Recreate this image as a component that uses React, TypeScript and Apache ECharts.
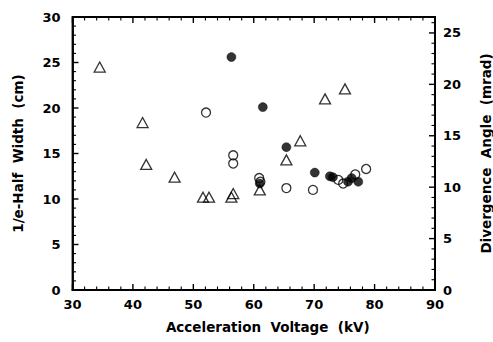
import React, { useEffect, useRef } from "react";
import * as echarts from "echarts";

// Acceleration voltage (kV), 1/e-half width (cm)
const triangleSeries: number[][] = [
  [34.5, 24.5], [41.6, 18.4], [42.2, 13.8], [46.9, 12.4], [51.6, 10.2], [52.6, 10.2],
  [56.3, 10.2], [56.6, 10.6], [61.0, 11.0], [65.4, 14.3], [67.7, 16.4], [71.8, 21.0], [75.1, 22.1],
];
const filledSeries: number[][] = [
  [56.3, 25.6], [61.5, 20.1], [65.4, 15.7], [70.1, 12.9], [72.6, 12.5], [73.1, 12.4],
  [75.6, 11.9], [76.2, 12.3], [77.3, 11.9], [61.0, 11.7],
];
const openSeries: number[][] = [
  [52.1, 19.5], [56.6, 14.8], [56.6, 13.9], [60.9, 12.3], [61.1, 11.9], [65.4, 11.2],
  [69.8, 11.0], [74.0, 12.1], [74.8, 11.7], [76.8, 12.7], [78.6, 13.3],
];

const xMin = 30, xMax = 90, xInterval = 10, xMinorStep = 2;
const yMin = 0, yMax = 30, yInterval = 5, yMinorStep = 1;
const rightMax = 26.55, rightInterval = 5, rightMinorStep = 1;

const FONT = "DejaVu Sans";

// tick marks: [value, kind (0 = x, 1 = left y, 2 = right y), major (1/0)]
const tickMarks: number[][] = [];
for (let v = xMin; v <= xMax + 1e-9; v += xMinorStep) tickMarks.push([v, 0, (v - xMin) % xInterval === 0 ? 1 : 0]);
for (let v = yMin; v <= yMax + 1e-9; v += yMinorStep) tickMarks.push([v, 1, v % yInterval === 0 ? 1 : 0]);
for (let v = 0; v <= rightMax + 1e-9; v += rightMinorStep) tickMarks.push([v, 2, v % rightInterval === 0 ? 1 : 0]);

const label = (margin: number) => ({ color: "#000", fontFamily: FONT, fontWeight: "bold", fontSize: 13, margin });
const nameStyle = () => ({ color: "#000", fontFamily: FONT, fontWeight: "bold", fontSize: 13.5 });
const axisLine = () => ({ show: true, onZero: false, lineStyle: { color: "#000", width: 1.8 } });

export default function App() {
  const ref = useRef<HTMLDivElement>(null);
  useEffect(() => {
    if (!ref.current) return;
    const chart = echarts.init(ref.current, null, { renderer: "svg" });
    const lineEl = (x1: number, y1: number, x2: number, y2: number, w: number) => ({
      type: "line", shape: { x1, y1, x2, y2 }, style: { stroke: "#000", lineWidth: w }, silent: true,
    });
    chart.setOption({
      animation: false,
      grid: {
        left: 72.5, right: 58, top: 17, bottom: 52, outerBoundsMode: "none",
        show: true, borderColor: "#000", borderWidth: 1.8, backgroundColor: "rgba(0,0,0,0)",
      },
      xAxis: [
        {
          type: "value", min: xMin, max: xMax, interval: xInterval, position: "bottom",
          axisLine: axisLine(), axisTick: { show: false }, splitLine: { show: false },
          axisLabel: label(8),
          name: "Acceleration  Voltage  (kV)", nameLocation: "middle", nameGap: 30,
          nameTextStyle: { ...nameStyle(), padding: [0, 0, 0, 28] },
        },
      ],
      yAxis: [
        {
          type: "value", min: yMin, max: yMax, interval: yInterval, position: "left",
          axisLine: axisLine(), axisTick: { show: false }, splitLine: { show: false },
          axisLabel: label(12),
          name: "1/e-Half  Width  (cm)", nameLocation: "middle", nameGap: 48, nameRotate: 90,
          nameTextStyle: nameStyle(),
        },
        {
          type: "value", min: 0, max: rightMax, interval: rightInterval, position: "right",
          axisLine: axisLine(), axisTick: { show: false }, splitLine: { show: false },
          axisLabel: { ...label(8), showMaxLabel: false },
          name: "Divergence  Angle  (mrad)", nameLocation: "middle", nameGap: 44, nameRotate: 90,
          nameTextStyle: nameStyle(),
        },
      ],
      series: [
        {
          type: "custom", data: tickMarks, xAxisIndex: 0, yAxisIndex: 0, clip: false, silent: true,
          renderItem: (_params: any, api: any) => {
            const v = api.value(0);
            const kind = api.value(1);
            const major = api.value(2) === 1;
            const len = major ? 6 : 3.5;
            const w = major ? 1.4 : 1.1;
            if (kind === 0) {
              const b = api.coord([v, yMin]);
              const t = api.coord([v, yMax]);
              return {
                type: "group",
                children: [lineEl(b[0], b[1], b[0], b[1] - len, w), lineEl(t[0], t[1], t[0], t[1] + len, w)],
              };
            }
            if (kind === 1) {
              const p = api.coord([xMin, v]);
              return lineEl(p[0], p[1], p[0] + len, p[1], w);
            }
            const p = api.coord([xMax, (v * yMax) / rightMax]);
            return lineEl(p[0], p[1], p[0] - len, p[1], w);
          },
        },
        {
          type: "scatter", data: triangleSeries, symbol: "triangle", symbolSize: [11, 10],
          itemStyle: { color: "rgba(255,255,255,0)", borderColor: "#000", borderWidth: 1.3 },
        },
        {
          type: "scatter", data: filledSeries, symbol: "circle", symbolSize: 9,
          itemStyle: { color: "#000", borderColor: "#000", borderWidth: 0.5 },
        },
        {
          type: "scatter", data: openSeries, symbol: "circle", symbolSize: 9,
          itemStyle: { color: "rgba(255,255,255,0)", borderColor: "#000", borderWidth: 1.3 },
        },
      ],
    });
    return () => chart.dispose();
  }, []);
  return <div ref={ref} style={{ width: 493, height: 342, position: "absolute", left: 0, top: 0, background: "#fff" }} />;
}
